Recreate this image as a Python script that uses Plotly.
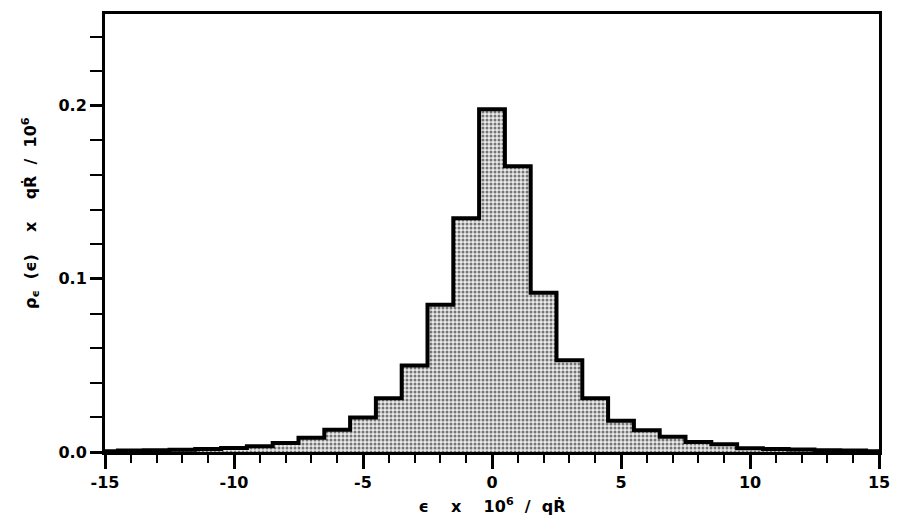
import plotly.graph_objects as go

# bin centres (width 1) and density
eps = list(range(-15, 16))
density = [0.0005, 0.0008, 0.0010, 0.0013, 0.0017, 0.0023, 0.0033, 0.0052,
           0.0082, 0.0128, 0.0200, 0.0310, 0.0500, 0.0850, 0.1350, 0.1980,
           0.1650, 0.0920, 0.0530, 0.0310, 0.0180, 0.0125, 0.0088, 0.0058,
           0.0045, 0.0022, 0.0018, 0.0014, 0.0010, 0.0008, 0.0005]

xticks = [-15, -10, -5, 0, 5, 10, 15]
yticks = [0.0, 0.1, 0.2]

tick_font = dict(family="DejaVu Sans", size=16, color="black", weight="bold")
title_font = dict(family="DejaVu Sans", size=16, color="black", weight="bold")

fig = go.Figure()
fig.add_trace(go.Scatter(
    x=eps, y=density, mode="lines", line_shape="hvh",
    line=dict(color="black", width=4),
    fill="tozeroy",
    fillcolor="rgba(0,0,0,0)",
    fillpattern=dict(shape=".", fgcolor="black", bgcolor="#eaeaea",
                     size=4, solidity=0.45),
    showlegend=False, hoverinfo="skip",
))

fig.update_xaxes(
    range=[-15, 15], tickvals=xticks, ticktext=[str(v) for v in xticks],
    ticks="outside", ticklen=14, tickwidth=2.5, tickcolor="black",
    minor=dict(dtick=1, tick0=0, ticks="outside", ticklen=8, tickwidth=2,
               tickcolor="black"),
    showline=True, linewidth=3, linecolor="black", mirror=True,
    showgrid=False, zeroline=False, tickfont=tick_font,
    title=dict(text="ϵ    x    10<sup>6</sup>  /  qṘ", font=title_font,
               standoff=10),
)
fig.update_yaxes(
    range=[0, 0.253], tickvals=yticks, ticktext=["0.0", "0.1", "0.2"],
    ticks="outside", ticklen=12, tickwidth=2.5, tickcolor="black",
    minor=dict(dtick=0.02, tick0=0, ticks="outside", ticklen=12, tickwidth=2,
               tickcolor="black"),
    showline=True, linewidth=3, linecolor="black", mirror=True,
    showgrid=False, zeroline=False, tickfont=tick_font,
)

# y title placed by hand, it sits a little above the middle of the axis
fig.add_annotation(
    text="ρ<sub>ϵ</sub>  (ϵ)    x    qṘ  /  10<sup>6</sup>",
    xref="paper", yref="paper", x=-0.096, y=0.545,
    xanchor="center", yanchor="middle", textangle=-90,
    showarrow=False, font=title_font,
)

fig.update_layout(
    width=901, height=531,
    margin=dict(l=105, r=14, t=11, b=79),
    plot_bgcolor="white", paper_bgcolor="white",
)

# drop the default 8px body margin so the figure fills the window
fig.write_html(
    "out.html",
    config={"responsive": False, "displayModeBar": False},
    post_script="document.body.style.margin='0';"
                "document.body.style.overflow='hidden';",
)
